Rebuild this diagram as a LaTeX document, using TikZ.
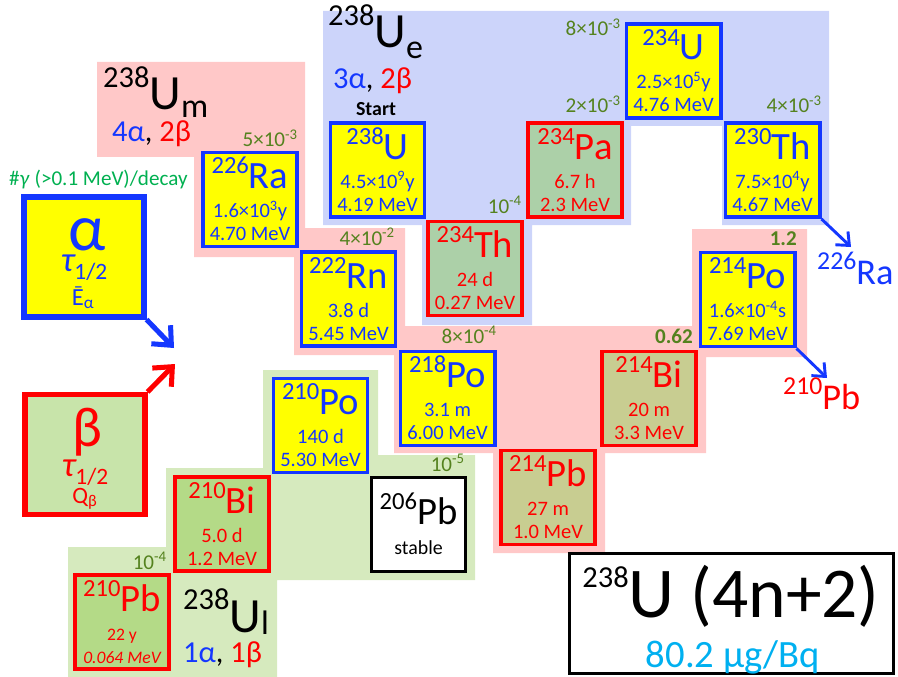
\documentclass[tikz,border=0pt]{standalone}
\usepackage{fontspec}
\setmainfont{Carlito}
\usetikzlibrary{calc, arrows.meta}

\definecolor{ablue}{RGB}{20,55,255}
\definecolor{bred}{RGB}{255,0,0}
\definecolor{ayellow}{RGB}{255,255,0}
\definecolor{thfill}{RGB}{172,208,168}
\definecolor{pbfill}{RGB}{200,205,145}
\definecolor{bifill}{RGB}{180,218,135}
\definecolor{legfill}{RGB}{200,228,170}
\definecolor{mpink}{RGB}{255,200,200}
\definecolor{elav}{RGB}{204,212,250}
\definecolor{lgreen}{RGB}{214,234,190}
\definecolor{gnum}{RGB}{84,130,30}
\definecolor{gteal}{RGB}{0,176,80}
\definecolor{cyanbq}{RGB}{0,176,240}

\newcommand\nucl[3][21]{\raisebox{12.5pt}{\fontsize{#1}{#1}\selectfont #2}#3}
\newcommand\chaintitle[4][-6pt]{\raisebox{19pt}{\fontsize{26}{26}\selectfont #2}#3\raisebox{#1}{\fontsize{29}{29}\selectfont #4}}
\newcommand\halflife{{\fontsize{30}{30}\selectfont\itshape τ}\raisebox{-7pt}{1/2}}
\newcommand\nucbox[8][]{%
	\node[#4box, #1] (#2) at (#3) {};
	\node[#4txt, nucfont] at ($(#2)+(0,-11)$) {\nucl{#5}{#6}};
	\node[#4txt, linefont] at ($(#2)+(0,18)$) {#7};
	\node[#4txt, linefont] at ($(#2)+(0,41)$) {#8};
}

\begin{document}
\begin{tikzpicture}[x=0.03cm, y=-0.03cm,
		box/.style={minimum width=2.82cm, minimum height=2.82cm, line width=3.4pt, inner sep=0pt},
		alphabox/.style={box, draw=ablue, fill=ayellow},
		betabox/.style={box, draw=bred, fill=thfill},
		alphatxt/.style={text=ablue, anchor=base, inner sep=0pt},
		betatxt/.style={text=bred, anchor=base, inner sep=0pt},
		nucfont/.style={font=\fontsize{33}{33}\selectfont},
		linefont/.style={font=\fontsize{17.5}{17.5}\selectfont},
		ratio/.style={text=gnum, anchor=base east, inner sep=0pt, font=\fontsize{18}{18}\selectfont},
		legbox/.style={minimum width=3.6cm, minimum height=3.6cm, line width=4.3pt, inner sep=0pt},
		decay/.style={line width=2.5pt, -{Straight Barb[length=3.2mm, width=5.5mm]}},
		legarrow/.style={line width=4.3pt, -{Straight Barb[length=4.5mm, width=8mm]}},
		title/.style={anchor=base west, inner sep=0pt}]
	\useasboundingbox (0,0) rectangle (898,677);

	\fill[mpink] (97,62) rectangle (305,157) (194,157) rectangle (305,257)
		(294,228) rectangle (405,355) (394,326) rectangle (706,453)
		(692,229) rectangle (807,357) (493,453) rectangle (605,553);
	\fill[elav] (323,11) rectangle (829,126) (323,126) rectangle (631,225)
		(722,126) rectangle (829,225) (422,225) rectangle (532,325);
	\fill[lgreen] (263,370) rectangle (378,580) (378,455) rectangle (475,580)
		(166,468) rectangle (263,580) (68,547) rectangle (277,677);

	\node[title, font=\fontsize{42}{42}\selectfont] (Umtitle) at (103,110) {\chaintitle{238}{U}{m}};
	\node[title, font=\fontsize{26}{26}\selectfont] (Umcount) at (112,142) {\textcolor{ablue}{4α}, \textcolor{bred}{2β}};
	\node[title, font=\fontsize{42}{42}\selectfont] (Uetitle) at (328,48) {\chaintitle[-9pt]{238}{U}{e}};
	\node[title, font=\fontsize{26}{26}\selectfont] (Uecount) at (333,89) {\textcolor{ablue}{3α}, \textcolor{bred}{2β}};
	\node[title, font=\fontsize{42}{42}\selectfont] (Ultitle) at (183,632) {\chaintitle[-2pt]{238}{U}{l}};
	\node[title, font=\fontsize{26}{26}\selectfont] (Ulcount) at (183,662) {\textcolor{ablue}{1α}, \textcolor{bred}{1β}};

	\nucbox{Ra226}{250,199.5}{alpha}{226}{Ra}{1.6×10\textsuperscript{3}y}{4.70 MeV}
	\nucbox{U238}{377.5,170}{alpha}{238}{U}{4.5×10\textsuperscript{9}y}{4.19 MeV}
	\nucbox{Th234}{475,268.5}{beta}{234}{Th}{24 d}{0.27 MeV}
	\nucbox{Pa234}{575,170}{beta}{234}{Pa}{6.7 h}{2.3 MeV}
	\nucbox{U234}{673.5,71}{alpha}{234}{U}{2.5×10\textsuperscript{5}y}{4.76 MeV}
	\nucbox{Th230}{772.5,170}{alpha}{230}{Th}{7.5×10\textsuperscript{4}y}{4.67 MeV}
	\nucbox{Rn222}{348.5,299}{alpha}{222}{Rn}{3.8 d}{5.45 MeV}
	\nucbox{Po218}{447.5,398.5}{alpha}{218}{Po}{3.1 m}{6.00 MeV}
	\nucbox[fill=pbfill]{Pb214}{548,497.5}{beta}{214}{Pb}{27 m}{1.0 MeV}
	\nucbox[fill=pbfill]{Bi214}{649,398.5}{beta}{214}{Bi}{20 m}{3.3 MeV}
	\nucbox{Po214}{747.5,299.5}{alpha}{214}{Po}{1.6×10\textsuperscript{-4}s}{7.69 MeV}
	\nucbox{Po210}{320.5,425.5}{alpha}{210}{Po}{140 d}{5.30 MeV}
	\nucbox[fill=bifill]{Bi210}{222,524}{beta}{210}{Bi}{5.0 d}{1.2 MeV}
	\nucbox[fill=bifill]{Pb210}{122,622}{beta}{210}{Pb}{\fontsize{15}{15}\selectfont 22 y}{\fontsize{15}{15}\selectfont\itshape 0.064 MeV}

	\node[box, draw=black, fill=white, line width=2.5pt] (Pb206) at (418.5,524.5) {};
	\node[anchor=base, inner sep=0pt, nucfont] at (Pb206) {\nucl{206}{Pb}};
	\node[anchor=base, inner sep=0pt, font=\fontsize{17}{17}\selectfont] at ($(Pb206)+(0,30)$) {stable};

	\node[anchor=base, inner sep=0pt, font=\bfseries\fontsize{17}{17}\selectfont] (start) at (376,116) {Start};
	\node[ratio] at (298,147) {5×10\textsuperscript{-3}};
	\node[ratio] at (395,245) {4×10\textsuperscript{-2}};
	\node[ratio] at (497,343) {8×10\textsuperscript{-4}};
	\node[ratio] at (522,213) {10\textsuperscript{-4}};
	\node[ratio] at (621,113) {2×10\textsuperscript{-3}};
	\node[ratio] at (621,36) {8×10\textsuperscript{-3}};
	\node[ratio] at (822,113) {4×10\textsuperscript{-3}};
	\node[ratio] at (797,245) {\textbf{1.2}};
	\node[ratio] at (693,343) {\textbf{0.62}};
	\node[ratio] at (465,471) {10\textsuperscript{-5}};
	\node[ratio] at (167,569) {10\textsuperscript{-4}};

	\coordinate (Raarr) at (851,247);
	\coordinate (Pbarr) at (827,378);
	\draw[decay, ablue] (Th230.south east) -- (Raarr);
	\draw[decay, ablue] (Po214.south east) -- (Pbarr);
	\node[title, text=ablue, font=\fontsize{31}{31}\selectfont] (Raout) at (817,284) {\nucl[22]{226}{Ra}};
	\node[title, text=bred, font=\fontsize{31}{31}\selectfont] (Pbout) at (783,409) {\nucl[22]{210}{Pb}};

	\node[title, text=gteal, font=\fontsize{18}{18}\selectfont] (gammanote) at (9,186) {\#\textit{γ} (>0.1 MeV)/decay};
	\node[legbox, draw=ablue, fill=ayellow] (alphaleg) at (84,257) {};
	\node[alphatxt, text depth=0pt, font=\fontsize{56}{56}\selectfont] at (87,250) {α};
	\node[alphatxt, font=\fontsize{20}{20}\selectfont] at (84,271) {\halflife};
	\node[alphatxt, font=\fontsize{21}{21}\selectfont] at (83,305) {\=E\textsubscript{α}};
	\node[legbox, draw=bred, fill=legfill] (betaleg) at (85,454.5) {};
	\node[betatxt, text depth=0pt, font=\fontsize{48}{48}\selectfont] at (87,446) {β};
	\node[betatxt, font=\fontsize{20}{20}\selectfont] at (85,476) {\halflife};
	\node[betatxt, font=\fontsize{20}{20}\selectfont] at (85,503) {Q\textsubscript{β}};
	\coordinate (alphatip) at (174,348);
	\coordinate (betatip) at (175,364);
	\draw[legarrow, ablue] (alphaleg.south east) -- (alphatip);
	\draw[legarrow, bred] (betaleg.north east) -- (betatip);

	\node[draw=black, line width=2.5pt, minimum width=9.72cm, minimum height=3.6cm, inner sep=0pt] (chainbox) at (731.5,613.5) {};
	\node[anchor=base, inner sep=0pt, font=\fontsize{61}{61}\selectfont] (chainname) at (731,617) {\raisebox{25pt}{\fontsize{26}{26}\selectfont 238}U (4n+2)};
	\node[anchor=base, inner sep=0pt, text=cyanbq, font=\fontsize{33}{33}\selectfont] (massbq) at (733,667) {80.2 µg/Bq};
\end{tikzpicture}
\end{document}
